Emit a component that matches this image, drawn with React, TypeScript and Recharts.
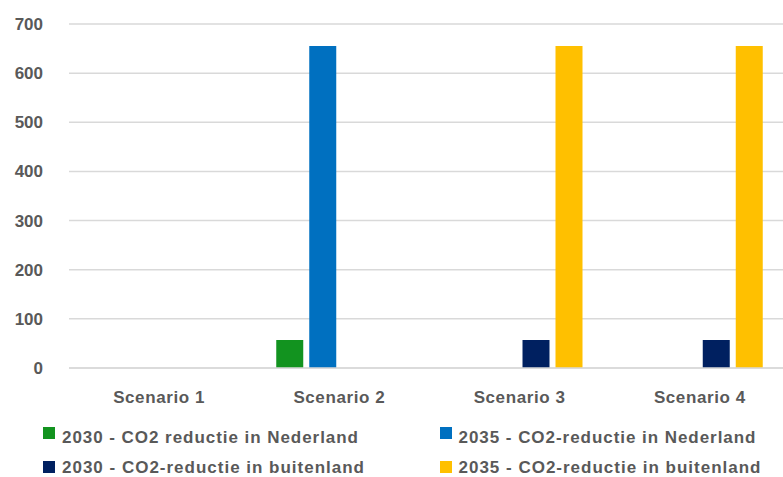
import React from "react";
import { BarChart, Bar, XAxis, YAxis, CartesianGrid, Legend } from "recharts";

// Scenario categories on the x axis
const scenarios = ["Scenario 1", "Scenario 2", "Scenario 3", "Scenario 4"];

// CO2 reduction per scenario (null = no bar)
const nl2030: (number | null)[] = [null, 57, null, null];
const nl2035: (number | null)[] = [null, 655, null, null];
const abroad2030: (number | null)[] = [null, null, 57, 57];
const abroad2035: (number | null)[] = [null, null, 655, 655];

const yTicks = [0, 100, 200, 300, 400, 500, 600, 700];

const seriesNames = [
  "2030 - CO2 reductie in Nederland",
  "2035 - CO2-reductie in Nederland",
  "2030 - CO2-reductie in buitenland",
  "2035 - CO2-reductie in buitenland",
];
const seriesKeys = ["nl2030", "nl2035", "abroad2030", "abroad2035"];
const seriesColors = ["#12931F", "#0070C0", "#002060", "#FFC000"];

const data = scenarios.map((name, i) => ({
  name,
  nl2030: nl2030[i],
  nl2035: nl2035[i],
  abroad2030: abroad2030[i],
  abroad2035: abroad2035[i],
}));

const TEXT = "#595959";
const FONT = "'Liberation Sans', Arial, sans-serif";

// Two-column legend drawn as SVG
const legendSlots = [
  { x: 43, y: 9, tx: 62, ty: 25, len: 296 },
  { x: 440, y: 9, tx: 458.5, ty: 25, len: 297 },
  { x: 43, y: 43, tx: 62, ty: 55, len: 302 },
  { x: 440, y: 43, tx: 458.5, ty: 55, len: 302 },
];

const LegendContent = () => (
  <svg width={790} height={59} style={{ overflow: "visible", display: "block" }}>
    {seriesNames.map((label, i) => {
      const s = legendSlots[i];
      return (
        <g key={label}>
          <rect x={s.x} y={s.y} width={12} height={12} fill={seriesColors[i]} />
          <text
            x={s.tx}
            y={s.ty}
            fontFamily={FONT}
            fontSize={17}
            fontWeight="bold"
            fill={TEXT}
            textLength={s.len}
            lengthAdjust="spacing"
          >
            {label}
          </text>
        </g>
      );
    })}
  </svg>
);

export default function App() {
  return (
    <div
      style={{
        position: "fixed",
        top: 0,
        left: 0,
        width: 783,
        height: 477,
        overflow: "hidden",
        background: "#fff",
      }}
    >
      <BarChart
        width={790}
        height={477}
        data={data}
        margin={{ top: 24, right: 0, left: 0, bottom: 0 }}
        barSize={27}
        barGap={6}
      >
        <CartesianGrid vertical={false} stroke="#d9d9d9" strokeWidth={1.5} />
        <XAxis
          dataKey="name"
          height={50}
          axisLine={{ stroke: "#d9d9d9", strokeWidth: 1.5 }}
          tickLine={false}
          tickSize={0}
          tickMargin={23}
          tick={{ fill: TEXT, fontSize: 17, fontWeight: "bold", fontFamily: FONT, letterSpacing: 0.6 }}
        />
        <YAxis
          width={69}
          domain={[0, 700]}
          ticks={yTicks}
          axisLine={false}
          tickLine={false}
          tickSize={0}
          tickMargin={26}
          tick={{ fill: TEXT, fontSize: 17, fontWeight: "bold", fontFamily: FONT }}
        />
        <Legend
          verticalAlign="bottom"
          height={59}
          content={<LegendContent />}
          wrapperStyle={{ left: 0, width: 790, overflow: "visible" }}
        />
        {seriesKeys.map((k, i) => (
          <Bar key={k} dataKey={k} name={seriesNames[i]} fill={seriesColors[i]} isAnimationActive={false} />
        ))}
      </BarChart>
    </div>
  );
}
